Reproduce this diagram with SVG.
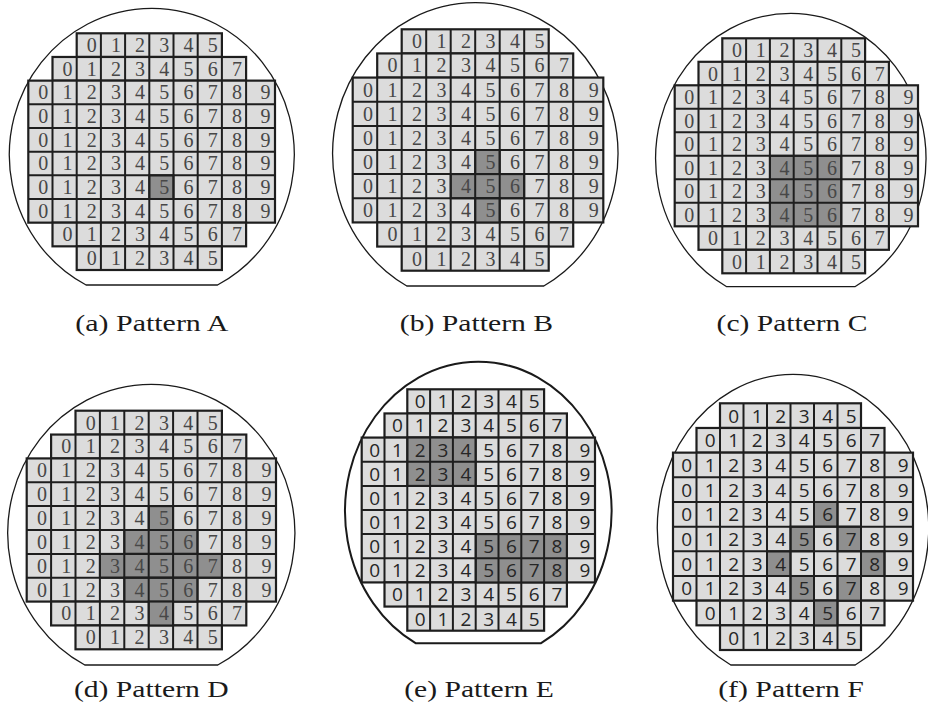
<svg xmlns="http://www.w3.org/2000/svg" width="928" height="714" viewBox="0 0 928 714">
<style>
.bg{fill:#fff}
.w{fill:none;stroke:#1a1a1a;stroke-width:1.3}
.we{stroke-width:2}
.r{fill:#dcdcdc;stroke:#1e1e1e;stroke-width:2.2}
.s{fill:#8f8f8f;stroke:#1e1e1e;stroke-width:2}
.g{fill:none;stroke:#1e1e1e;stroke-width:2}
.ns{font-size:20px;fill:#474747;text-anchor:end}
.nn{font-size:19px;fill:#262626;text-anchor:end}
.cap{font-size:22.5px;fill:#1a1a1a;text-anchor:middle}
</style>
<rect class="bg" x="0" y="0" width="928" height="714"/>

<g id="wafer-a">
<path class="w" d="M86.1 285A142.5 146.6 0 1 1 217.5 285Z"/>
<g transform="translate(28.3 33.3)">
<rect class="r" x="48.4" y="0" width="145.2" height="23.67"/>
<rect class="r" x="24.2" y="23.67" width="193.6" height="23.67"/>
<rect class="r" x="0" y="47.34" width="246.7" height="142.02"/>
<rect class="r" x="24.2" y="189.36" width="193.6" height="23.67"/>
<rect class="r" x="48.4" y="213.03" width="145.2" height="23.67"/>
<rect class="s" x="121" y="142.02" width="24.2" height="23.67"/>
<path class="g" d="M0 71H246.7M0 94.7H246.7M0 118.4H246.7M0 142H246.7M0 165.7H246.7M24.2 47.3V189.4M48.4 23.7V213M72.6 0V236.7M96.8 0V236.7M121 0V236.7M145.2 0V236.7M169.4 0V236.7M193.6 23.7V213M217.8 47.3V189.4"/>
<g font-family="Liberation Serif, DejaVu Serif, serif">
<text class="ns" x="68.4 92.6 116.8 141 165.2 189.4" y="18.8">012345</text>
<text class="ns" x="44.2 68.4 92.6 116.8 141 165.2 189.4 213.6" y="42.5">01234567</text>
<text class="ns" x="20 44.2 68.4 92.6 116.8 141 165.2 189.4 213.6 242.2" y="66.1">0123456789</text>
<text class="ns" x="20 44.2 68.4 92.6 116.8 141 165.2 189.4 213.6 242.2" y="89.8">0123456789</text>
<text class="ns" x="20 44.2 68.4 92.6 116.8 141 165.2 189.4 213.6 242.2" y="113.5">0123456789</text>
<text class="ns" x="20 44.2 68.4 92.6 116.8 141 165.2 189.4 213.6 242.2" y="137.2">0123456789</text>
<text class="ns" x="20 44.2 68.4 92.6 116.8 141 165.2 189.4 213.6 242.2" y="160.8">0123456789</text>
<text class="ns" x="20 44.2 68.4 92.6 116.8 141 165.2 189.4 213.6 242.2" y="184.5">0123456789</text>
<text class="ns" x="44.2 68.4 92.6 116.8 141 165.2 189.4 213.6" y="208.2">01234567</text>
<text class="ns" x="68.4 92.6 116.8 141 165.2 189.4" y="231.8">012345</text>
</g>
</g>
<text class="cap" font-family="Liberation Serif, DejaVu Serif, serif" x="151.8" y="331" textLength="153" lengthAdjust="spacingAndGlyphs">(a) Pattern A</text>
</g>

<g id="wafer-b">
<path class="w" d="M406.8 286A142.7 150.9 0 1 1 543.8 286Z"/>
<g transform="translate(352.7 29.3)">
<rect class="r" x="49" y="0" width="147" height="24.14"/>
<rect class="r" x="24.5" y="24.14" width="196" height="24.14"/>
<rect class="r" x="0" y="48.28" width="250.6" height="144.84"/>
<rect class="r" x="24.5" y="193.12" width="196" height="24.14"/>
<rect class="r" x="49" y="217.26" width="147" height="24.14"/>
<rect class="s" x="122.5" y="120.7" width="24.5" height="24.14"/>
<rect class="s" x="98" y="144.84" width="73.5" height="24.14"/>
<rect class="s" x="122.5" y="168.98" width="24.5" height="24.14"/>
<path class="g" d="M0 72.4H250.6M0 96.6H250.6M0 120.7H250.6M0 144.8H250.6M0 169H250.6M24.5 48.3V193.1M49 24.1V217.3M73.5 0V241.4M98 0V241.4M122.5 0V241.4M147 0V241.4M171.5 0V241.4M196 24.1V217.3M220.5 48.3V193.1"/>
<g font-family="Liberation Serif, DejaVu Serif, serif">
<text class="ns" x="69.3 93.8 118.3 142.8 167.3 191.8" y="19.1">012345</text>
<text class="ns" x="44.8 69.3 93.8 118.3 142.8 167.3 191.8 216.3" y="43.2">01234567</text>
<text class="ns" x="20.3 44.8 69.3 93.8 118.3 142.8 167.3 191.8 216.3 246.1" y="67.4">0123456789</text>
<text class="ns" x="20.3 44.8 69.3 93.8 118.3 142.8 167.3 191.8 216.3 246.1" y="91.5">0123456789</text>
<text class="ns" x="20.3 44.8 69.3 93.8 118.3 142.8 167.3 191.8 216.3 246.1" y="115.6">0123456789</text>
<text class="ns" x="20.3 44.8 69.3 93.8 118.3 142.8 167.3 191.8 216.3 246.1" y="139.8">0123456789</text>
<text class="ns" x="20.3 44.8 69.3 93.8 118.3 142.8 167.3 191.8 216.3 246.1" y="163.9">0123456789</text>
<text class="ns" x="20.3 44.8 69.3 93.8 118.3 142.8 167.3 191.8 216.3 246.1" y="188.1">0123456789</text>
<text class="ns" x="44.8 69.3 93.8 118.3 142.8 167.3 191.8 216.3" y="212.2">01234567</text>
<text class="ns" x="69.3 93.8 118.3 142.8 167.3 191.8" y="236.3">012345</text>
</g>
</g>
<text class="cap" font-family="Liberation Serif, DejaVu Serif, serif" x="476.5" y="331" textLength="153.3" lengthAdjust="spacingAndGlyphs">(b) Pattern B</text>
</g>

<g id="wafer-c">
<path class="w" d="M726.7 286.7A135.2 145.4 0 1 1 854.9 286.7Z"/>
<g transform="translate(674.7 38.3)">
<rect class="r" x="47.6" y="0" width="142.8" height="23.5"/>
<rect class="r" x="23.8" y="23.5" width="190.4" height="23.5"/>
<rect class="r" x="0" y="47" width="243.3" height="141"/>
<rect class="r" x="23.8" y="188" width="190.4" height="23.5"/>
<rect class="r" x="47.6" y="211.5" width="142.8" height="23.5"/>
<rect class="s" x="95.2" y="117.5" width="71.4" height="70.5"/>
<path class="g" d="M0 70.5H243.3M0 94H243.3M0 117.5H243.3M0 141H243.3M0 164.5H243.3M23.8 47V188M47.6 23.5V211.5M71.4 0V235M95.2 0V235M119 0V235M142.8 0V235M166.6 0V235M190.4 23.5V211.5M214.2 47V188"/>
<g font-family="Liberation Serif, DejaVu Serif, serif">
<text class="ns" x="67.2 91 114.8 138.6 162.4 186.2" y="18.8">012345</text>
<text class="ns" x="43.4 67.2 91 114.8 138.6 162.4 186.2 210" y="42.3">01234567</text>
<text class="ns" x="19.6 43.4 67.2 91 114.8 138.6 162.4 186.2 210 238.8" y="65.8">0123456789</text>
<text class="ns" x="19.6 43.4 67.2 91 114.8 138.6 162.4 186.2 210 238.8" y="89.3">0123456789</text>
<text class="ns" x="19.6 43.4 67.2 91 114.8 138.6 162.4 186.2 210 238.8" y="112.8">0123456789</text>
<text class="ns" x="19.6 43.4 67.2 91 114.8 138.6 162.4 186.2 210 238.8" y="136.3">0123456789</text>
<text class="ns" x="19.6 43.4 67.2 91 114.8 138.6 162.4 186.2 210 238.8" y="159.8">0123456789</text>
<text class="ns" x="19.6 43.4 67.2 91 114.8 138.6 162.4 186.2 210 238.8" y="183.3">0123456789</text>
<text class="ns" x="43.4 67.2 91 114.8 138.6 162.4 186.2 210" y="206.8">01234567</text>
<text class="ns" x="67.2 91 114.8 138.6 162.4 186.2" y="230.3">012345</text>
</g>
</g>
<text class="cap" font-family="Liberation Serif, DejaVu Serif, serif" x="792" y="331" textLength="150.8" lengthAdjust="spacingAndGlyphs">(c) Pattern C</text>
</g>

<g id="wafer-d">
<path class="w" d="M84.8 665A143.6 148.8 0 1 1 217.8 665Z"/>
<g transform="translate(26.7 410.7)">
<rect class="r" x="48.8" y="0" width="146.4" height="23.86"/>
<rect class="r" x="24.4" y="23.86" width="195.2" height="23.86"/>
<rect class="r" x="0" y="47.72" width="249.3" height="143.16"/>
<rect class="r" x="24.4" y="190.88" width="195.2" height="23.86"/>
<rect class="r" x="48.8" y="214.74" width="146.4" height="23.86"/>
<rect class="s" x="122" y="95.44" width="24.4" height="23.86"/>
<rect class="s" x="97.6" y="119.3" width="73.2" height="23.86"/>
<rect class="s" x="73.2" y="143.16" width="122" height="23.86"/>
<rect class="s" x="97.6" y="167.02" width="73.2" height="23.86"/>
<rect class="s" x="122" y="190.88" width="24.4" height="23.86"/>
<path class="g" d="M0 71.6H249.3M0 95.4H249.3M0 119.3H249.3M0 143.2H249.3M0 167H249.3M24.4 47.7V190.9M48.8 23.9V214.7M73.2 0V238.6M97.6 0V238.6M122 0V238.6M146.4 0V238.6M170.8 0V238.6M195.2 23.9V214.7M219.6 47.7V190.9"/>
<g font-family="Liberation Serif, DejaVu Serif, serif">
<text class="ns" x="69 93.4 117.8 142.2 166.6 191" y="18.9">012345</text>
<text class="ns" x="44.6 69 93.4 117.8 142.2 166.6 191 215.4" y="42.8">01234567</text>
<text class="ns" x="20.2 44.6 69 93.4 117.8 142.2 166.6 191 215.4 244.8" y="66.7">0123456789</text>
<text class="ns" x="20.2 44.6 69 93.4 117.8 142.2 166.6 191 215.4 244.8" y="90.5">0123456789</text>
<text class="ns" x="20.2 44.6 69 93.4 117.8 142.2 166.6 191 215.4 244.8" y="114.4">0123456789</text>
<text class="ns" x="20.2 44.6 69 93.4 117.8 142.2 166.6 191 215.4 244.8" y="138.2">0123456789</text>
<text class="ns" x="20.2 44.6 69 93.4 117.8 142.2 166.6 191 215.4 244.8" y="162.1">0123456789</text>
<text class="ns" x="20.2 44.6 69 93.4 117.8 142.2 166.6 191 215.4 244.8" y="186">0123456789</text>
<text class="ns" x="44.6 69 93.4 117.8 142.2 166.6 191 215.4" y="209.8">01234567</text>
<text class="ns" x="69 93.4 117.8 142.2 166.6 191" y="233.7">012345</text>
</g>
</g>
<text class="cap" font-family="Liberation Serif, DejaVu Serif, serif" x="151.3" y="697" textLength="154.8" lengthAdjust="spacingAndGlyphs">(d) Pattern D</text>
</g>

<g id="wafer-e">
<path class="w we" d="M415.9 643.3A133.3 149.5 0 1 1 540.7 643.3Z"/>
<g transform="translate(361.7 389.3)">
<rect class="r" x="45.6" y="0" width="136.8" height="24.14"/>
<rect class="r" x="22.8" y="24.14" width="182.4" height="24.14"/>
<rect class="r" x="0" y="48.28" width="233.3" height="144.84"/>
<rect class="r" x="22.8" y="193.12" width="182.4" height="24.14"/>
<rect class="r" x="45.6" y="217.26" width="136.8" height="24.14"/>
<rect class="s" x="45.6" y="48.28" width="68.4" height="48.28"/>
<rect class="s" x="114" y="144.84" width="91.2" height="48.28"/>
<path class="g" d="M0 72.4H233.3M0 96.6H233.3M0 120.7H233.3M0 144.8H233.3M0 169H233.3M22.8 48.3V193.1M45.6 24.1V217.3M68.4 0V241.4M91.2 0V241.4M114 0V241.4M136.8 0V241.4M159.6 0V241.4M182.4 24.1V217.3M205.2 48.3V193.1"/>
<g font-family="Open Sans, Liberation Sans, sans-serif">
<text class="nn" x="64 86.8 109.6 132.4 155.2 178" y="19.1">012345</text>
<text class="nn" x="41.2 64 86.8 109.6 132.4 155.2 178 200.8" y="43.2">01234567</text>
<text class="nn" x="18.4 41.2 64 86.8 109.6 132.4 155.2 178 200.8 228.8" y="67.4">0123456789</text>
<text class="nn" x="18.4 41.2 64 86.8 109.6 132.4 155.2 178 200.8 228.8" y="91.5">0123456789</text>
<text class="nn" x="18.4 41.2 64 86.8 109.6 132.4 155.2 178 200.8 228.8" y="115.6">0123456789</text>
<text class="nn" x="18.4 41.2 64 86.8 109.6 132.4 155.2 178 200.8 228.8" y="139.8">0123456789</text>
<text class="nn" x="18.4 41.2 64 86.8 109.6 132.4 155.2 178 200.8 228.8" y="163.9">0123456789</text>
<text class="nn" x="18.4 41.2 64 86.8 109.6 132.4 155.2 178 200.8 228.8" y="188.1">0123456789</text>
<text class="nn" x="41.2 64 86.8 109.6 132.4 155.2 178 200.8" y="212.2">01234567</text>
<text class="nn" x="64 86.8 109.6 132.4 155.2 178" y="236.3">012345</text>
</g>
</g>
<text class="cap" font-family="Liberation Serif, DejaVu Serif, serif" x="479" y="697" textLength="149.7" lengthAdjust="spacingAndGlyphs">(e) Pattern E</text>
</g>

<g id="wafer-f">
<path class="w" d="M730.8 665A135.7 153.9 0 1 1 855.2 665Z"/>
<g transform="translate(673 403.3)">
<rect class="r" x="47" y="0" width="141" height="24.67"/>
<rect class="r" x="23.5" y="24.67" width="188" height="24.67"/>
<rect class="r" x="0" y="49.34" width="240" height="148.02"/>
<rect class="r" x="23.5" y="197.36" width="188" height="24.67"/>
<rect class="r" x="47" y="222.03" width="141" height="24.67"/>
<rect class="s" x="141" y="98.68" width="23.5" height="24.67"/>
<rect class="s" x="117.5" y="123.35" width="23.5" height="24.67"/>
<rect class="s" x="164.5" y="123.35" width="23.5" height="24.67"/>
<rect class="s" x="94" y="148.02" width="23.5" height="24.67"/>
<rect class="s" x="188" y="148.02" width="23.5" height="24.67"/>
<rect class="s" x="117.5" y="172.69" width="23.5" height="24.67"/>
<rect class="s" x="164.5" y="172.69" width="23.5" height="24.67"/>
<rect class="s" x="141" y="197.36" width="23.5" height="24.67"/>
<path class="g" d="M0 74H240M0 98.7H240M0 123.4H240M0 148H240M0 172.7H240M23.5 49.3V197.4M47 24.7V222M70.5 0V246.7M94 0V246.7M117.5 0V246.7M141 0V246.7M164.5 0V246.7M188 24.7V222M211.5 49.3V197.4"/>
<g font-family="Open Sans, Liberation Sans, sans-serif">
<text class="nn" x="66.2 89.7 113.2 136.7 160.2 183.7" y="19.3">012345</text>
<text class="nn" x="42.7 66.2 89.7 113.2 136.7 160.2 183.7 207.2" y="44">01234567</text>
<text class="nn" x="19.2 42.7 66.2 89.7 113.2 136.7 160.2 183.7 207.2 235.5" y="68.7">0123456789</text>
<text class="nn" x="19.2 42.7 66.2 89.7 113.2 136.7 160.2 183.7 207.2 235.5" y="93.3">0123456789</text>
<text class="nn" x="19.2 42.7 66.2 89.7 113.2 136.7 160.2 183.7 207.2 235.5" y="118">0123456789</text>
<text class="nn" x="19.2 42.7 66.2 89.7 113.2 136.7 160.2 183.7 207.2 235.5" y="142.7">0123456789</text>
<text class="nn" x="19.2 42.7 66.2 89.7 113.2 136.7 160.2 183.7 207.2 235.5" y="167.3">0123456789</text>
<text class="nn" x="19.2 42.7 66.2 89.7 113.2 136.7 160.2 183.7 207.2 235.5" y="192">0123456789</text>
<text class="nn" x="42.7 66.2 89.7 113.2 136.7 160.2 183.7 207.2" y="216.7">01234567</text>
<text class="nn" x="66.2 89.7 113.2 136.7 160.2 183.7" y="241.3">012345</text>
</g>
</g>
<text class="cap" font-family="Liberation Serif, DejaVu Serif, serif" x="791" y="697" textLength="145.7" lengthAdjust="spacingAndGlyphs">(f) Pattern F</text>
</g>
</svg>
